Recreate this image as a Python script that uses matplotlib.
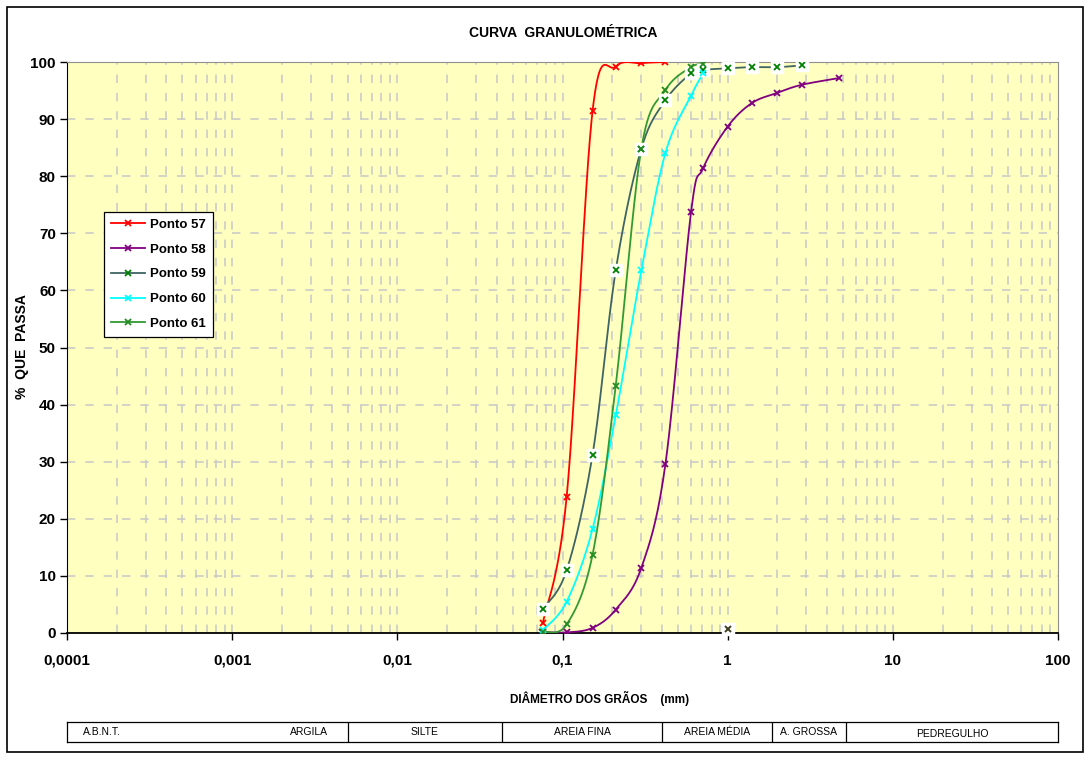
import numpy as np
import matplotlib
matplotlib.use('Agg')
import matplotlib.pyplot as plt
from matplotlib.ticker import FixedLocator, NullFormatter

plt.rcParams['font.family'] = ['Liberation Sans', 'DejaVu Sans']

# ===============
# Data (diameter mm, % passing)
# ===============
d57 = [0.076, 0.106, 0.152, 0.21, 0.30, 0.42]
p57 = [1.7, 23.9, 91.4, 99.2, 99.8, 100.0]

d58 = [0.075, 0.106, 0.152, 0.21, 0.30, 0.42, 0.60, 0.71, 1.0, 1.4, 2.0, 2.8, 4.75]
p58 = [0.2, 0.1, 0.9, 4.1, 11.4, 29.6, 73.7, 81.4, 88.7, 92.8, 94.6, 96.0, 97.2]

d59 = [0.076, 0.106, 0.152, 0.21, 0.30, 0.42, 0.60, 0.71, 1.0, 1.4, 2.0, 2.8]
p59 = [4.2, 11.0, 31.2, 63.5, 84.8, 93.3, 98.0, 98.6, 98.9, 99.1, 99.1, 99.4]

d60 = [0.076, 0.106, 0.152, 0.21, 0.30, 0.42, 0.60, 0.71]
p60 = [0.5, 5.5, 18.2, 38.1, 63.5, 84.1, 94.1, 98.0]

d61 = [0.076, 0.106, 0.152, 0.21, 0.30, 0.42, 0.60, 0.71]
p61 = [0.2, 1.5, 13.7, 43.3, 84.8, 95.1, 99.1, 99.6]

# lone point plotted at 1 mm
d_extra = [1.0]
p_extra = [0.7]

series = [
    ('Ponto 57', d57, p57, '#ff0000', '#ff0000', False),
    ('Ponto 58', d58, p58, '#800080', '#800080', False),
    ('Ponto 59', d59, p59, '#3f6464', '#008000', True),
    ('Ponto 60', d60, p60, '#00ffff', '#00ffff', False),
    ('Ponto 61', d61, p61, '#339933', '#228b22', False),
]

x_ticks = [0.0001, 0.001, 0.01, 0.1, 1, 10, 100]
x_ticklabels = ['0,0001', '0,001', '0,01', '0,1', '1', '10', '100']
y_ticks = list(range(0, 101, 10))

# ABNT classes for the strip below the chart
abnt_names = ['ARGILA', 'SILTE', 'AREIA FINA', 'AREIA MÉDIA', 'A. GROSSA', 'PEDREGULHO']
abnt_edges = [0.0001, 0.005, 0.043, 0.40, 1.85, 5.2, 100]

# pixel scale used for smoothing (px per decade, px per %)
SX, SY = 165.2, 5.71


def smooth(d, p, n=30):
    # Catmull-Rom / bezier smoothing in screen-like space
    u = np.log10(d) * SX
    v = np.array(p, dtype=float) * SY
    pts = np.column_stack([u, v])
    if len(pts) < 3:
        return np.array(d), np.array(p)
    ext = np.vstack([pts[0], pts, pts[-1]])
    out = []
    t = np.linspace(0, 1, n)[:, None]
    for i in range(1, len(ext) - 2):
        p0, p1, p2, p3 = ext[i - 1], ext[i], ext[i + 1], ext[i + 2]
        c1 = p1 + (p2 - p0) / 6
        c2 = p2 - (p3 - p1) / 6
        seg = ((1 - t) ** 3) * p1 + 3 * ((1 - t) ** 2) * t * c1 + 3 * (1 - t) * t ** 2 * c2 + t ** 3 * p2
        out.append(seg if i == 1 else seg[1:])
    out = np.vstack(out)
    return 10 ** (out[:, 0] / SX), out[:, 1] / SY


fig = plt.figure(figsize=(10.91, 7.60), dpi=100)
fig.patch.set_facecolor('white')

# outer frame
fig.add_artist(plt.Rectangle((7 / 1091, 8 / 760), 1076 / 1091, 745 / 760, transform=fig.transFigure,
                             fill=False, edgecolor='black', linewidth=1.2))

ax = fig.add_axes([67 / 1091, 1 - 633 / 760, 991 / 1091, 571 / 760])
ax.set_facecolor('#ffffc0')
ax.set_xscale('log')
ax.set_xlim(1e-4, 100)
ax.set_ylim(0, 100)

# dashed grid
for dec in range(-4, 2):
    for m in range(1, 10):
        xv = m * 10.0 ** dec
        if xv <= 1e-4:
            continue
        ax.axvline(xv, color='#c8c8c8', lw=1.1, ls=(0, (5.5, 6.5)), zorder=0)
for yv in y_ticks[1:-1]:
    ax.axhline(yv, color='#c8c8c8', lw=1.1, ls=(0, (5.5, 6.5)), zorder=0)

for name, d, p, lc, mc, boxed in series:
    xs, ys = smooth(d, p)
    ax.plot(xs, ys, color=lc, lw=1.3, zorder=3)
    if boxed:
        ax.plot(d, p, ls='none', marker='s', ms=8, mfc='white', mec='white', zorder=4)
    ax.plot(d, p, ls='none', marker='x', ms=5, mew=1.3, color=mc, zorder=5)

ax.plot(d_extra, p_extra, ls='none', marker='s', ms=8, mfc='white', mec='white', zorder=4, clip_on=False)
ax.plot(d_extra, p_extra, ls='none', marker='x', ms=5, mew=1.4, color='#404020', zorder=5, clip_on=False)

# legend
handles = []
for name, d, p, lc, mc, boxed in series:
    h, = ax.plot([], [], color=lc, lw=1.3, marker='x', ms=5, mew=1.3, mec=mc, label=name)
    handles.append(h)
leg = ax.legend(handles=handles, loc='upper left', bbox_to_anchor=(37 / 991, 1 - 150 / 571),
                frameon=True, fancybox=False, edgecolor='black', framealpha=1,
                prop={'weight': 'bold', 'size': 9.5}, handlelength=2.6, handletextpad=0.4,
                labelspacing=0.95, borderpad=0.5, borderaxespad=0)
leg.get_frame().set_linewidth(0.9)

# axes styling
ax.xaxis.set_major_locator(FixedLocator(x_ticks))
ax.xaxis.set_minor_locator(FixedLocator([]))
ax.xaxis.set_minor_formatter(NullFormatter())
ax.set_xticklabels(x_ticklabels, fontsize=11, fontweight='bold')
ax.set_yticks(y_ticks)
ax.set_yticklabels([str(v) for v in y_ticks], fontsize=11, fontweight='bold')
ax.tick_params(axis='x', length=5, width=1, pad=10, color='black')
ax.tick_params(axis='y', length=5, width=1, pad=3, color='black')
ax.spines['left'].set_color('black')
ax.spines['bottom'].set_color('black')
ax.spines['bottom'].set_linewidth(1.3)
ax.spines['top'].set_color('#909090')
ax.spines['right'].set_color('#909090')

fig.text(563 / 1091, 1 - 33 / 760, 'CURVA  GRANULOMÉTRICA', ha='center', va='center',
         fontsize=10, fontweight='bold')
fig.text(22 / 1091, 1 - 347 / 760, '%  QUE  PASSA', ha='center', va='center', rotation=90,
         fontsize=10, fontweight='bold')
fig.text(600 / 1091, 1 - 698 / 760, 'DIÂMETRO DOS GRÃOS    (mm)', ha='center', va='center',
         fontsize=8.5, fontweight='bold')

# ABNT classification strip
tax = fig.add_axes([67 / 1091, 1 - 742 / 760, 991 / 1091, 20 / 760])
tax.set_xscale('log')
tax.set_xlim(1e-4, 100)
tax.set_ylim(0, 1)
tax.set_xticks([])
tax.set_yticks([])
tax.minorticks_off()
for s in tax.spines.values():
    s.set_linewidth(0.9)
for e in abnt_edges[1:-1]:
    tax.axvline(e, color='black', lw=0.9)
tax.text(1.25e-4, 0.5, 'A.B.N.T.', ha='left', va='center', fontsize=7.5)
for i, nm in enumerate(abnt_names):
    lo, hi = abnt_edges[i], abnt_edges[i + 1]
    xc = 10 ** ((np.log10(lo) + np.log10(hi)) / 2)
    yc = 0.5
    if nm == 'ARGILA':
        xc = 0.0029
    if nm == 'PEDREGULHO':
        yc = 0.38
    tax.text(xc, yc, nm, ha='center', va='center', fontsize=7.5)

fig.savefig('out.png', dpi=100)
